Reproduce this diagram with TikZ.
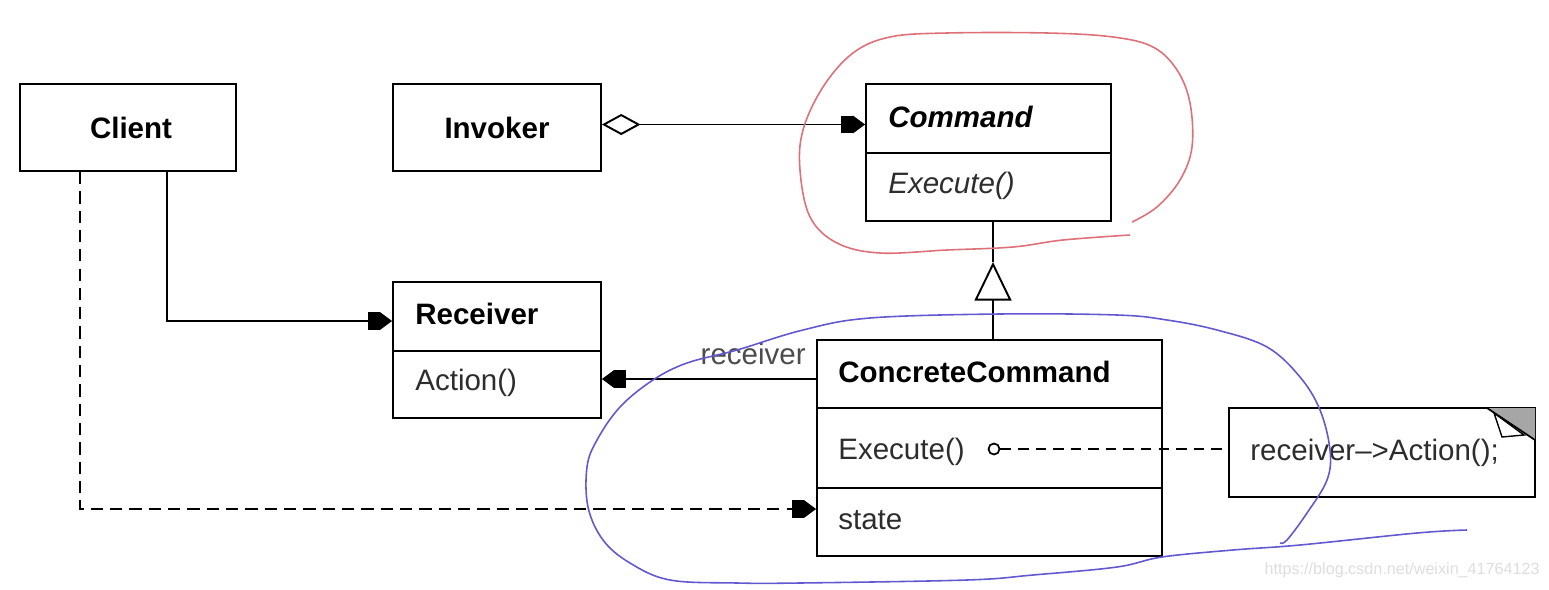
\documentclass[tikz,border=0pt]{standalone}
\usepackage{fontspec}
\setmainfont{Liberation Sans}
\usetikzlibrary{arrows.meta,calc}
\definecolor{redpen}{RGB}{222,112,122}
\definecolor{bluepen}{RGB}{98,88,208}
\definecolor{txt}{RGB}{45,45,45}
\definecolor{wm}{RGB}{222,222,222}
\tikzset{
  box/.style={draw, line width=1pt, inner sep=0pt, anchor=center},
  lbl/.style={font=\fontsize{16.8}{19}\selectfont, text=txt, inner sep=0pt, anchor=west},
  blbl/.style={font=\fontsize{16.8}{19}\selectfont\bfseries, text=black, inner sep=0pt},
  conn/.style={line width=1.1pt},
  tipf/.style={-{Rectangle[length=7pt,width=10pt,sep=0pt]Triangle[length=7pt,width=10pt]}},
  pen/.style={line width=0.9pt},
}
\begin{document}
\begin{tikzpicture}[x=0.02cm,y=-0.02cm]
\useasboundingbox (0,0) rectangle (1549,589);
\fill[white] (0,0) rectangle (1549,589);
% boxes
\node[box, minimum width=216*0.02cm, minimum height=87*0.02cm] (client) at (128,127.5) {};
\node[blbl] (clientt) at (131,128) {Client};
\node[box, minimum width=208*0.02cm, minimum height=87*0.02cm] (inv) at (497,127.5) {};
\node[blbl] (invt) at (inv.center) {Invoker};
\node[box, minimum width=245*0.02cm, minimum height=137*0.02cm] (cmd) at (988.5,152.5) {};
\draw[conn] (866,153) -- (1111,153);
\node[blbl, font=\fontsize{16.8}{19}\selectfont\bfseries\itshape, anchor=west] (cmdt) at (888,117) {Command};
\node[lbl, font=\fontsize{16.8}{19}\selectfont\itshape] (cmde) at (888,186) {Execute()};
\node[box, minimum width=208*0.02cm, minimum height=136*0.02cm] (rcv) at (497,350) {};
\draw[conn] (393,351) -- (601,351);
\node[blbl, anchor=west] (rcvt) at (415,314) {Receiver};
\node[lbl] (rcva) at (415,383) {Action()};
\node[box, minimum width=345*0.02cm, minimum height=216*0.02cm] (cc) at (989.5,448) {};
\draw[conn] (817,408) -- (1162,408);
\draw[conn] (817,488) -- (1162,488);
\node[blbl, anchor=west] (cct) at (838,372) {ConcreteCommand};
\node[lbl] (cce) at (838,452) {Execute()};
\node[lbl] (ccs) at (838,520) {state};
% note
\node[box, minimum width=306*0.02cm, minimum height=89*0.02cm] (note) at (1382,452.5) {};
\fill[gray!70] (1487,408) -- (1535,408) -- (1535,440) -- cycle;
\draw[line width=1pt] (1487,408) -- (1535,440);
\draw[line width=0.8pt, fill=white] (1494,413) -- (1502,437) -- (1524,435) -- cycle;
\node[lbl] (notet) at (1250,453) {receiver--{}>Action();};
% connectors
\draw[conn, {Diamond[open,length=22pt,width=12pt]}-{Rectangle[length=7pt,width=10pt,sep=0pt]Triangle[length=7pt,width=10pt]}] ($(inv.east)+(0,-3)$) -- ($(cmd.west)+(0,-28)$);
\draw[conn, tipf] ($(client.south)+(39,0)$) |- ($(rcv.west)+(0,-29)$);
\draw[conn, tipf, dash pattern=on 7pt off 4pt] ($(client.south)+(-48,0)$) |- ($(cc.west)+(0,61)$);
\draw[conn, tipf] ($(cc.west)+(0,-69)$) -- ($(rcv.east)+(0,29)$);
\node[font=\fontsize{16.8}{19}\selectfont, text=txt!85, inner sep=0pt, anchor=east] (rl) at (806,354) {receiver};
\coordinate (tri) at (993,262);
\draw[conn, -{Triangle[open,length=22pt,width=21pt]}] (cc.north -| tri) -- (tri);
\draw[conn] (tri) -- (cmd.south -| tri);
\node[draw, circle, line width=1pt, minimum size=11*0.02cm, inner sep=0pt] (oc) at (994,449) {};
\draw[conn, dash pattern=on 6pt off 4pt] (oc.east) -- (oc.east -| note.west);
% hand-drawn loops
\draw[pen, redpen] plot[smooth, tension=0.6] coordinates {(1132,222) (1157,207) (1180,180) (1192,147) (1190,103) (1177,70) (1153,47) (1113,37) (1047,33) (947,33) (890,37) (853,53) (823,87) (803,130) (800,170) (810,217) (837,243) (880,253) (947,250) (1013,247) (1063,240) (1130,235)};
\draw[pen, bluepen] plot[smooth, tension=0.6] coordinates {(1467,530) (1417,533) (1300,545) (1233,550) (1162,557) (1117,567) (1033,575) (967,580) (800,583) (737,583) (670,580) (630,563) (603,540) (588,507) (587,467) (597,440) (620,407) (653,380) (687,363) (737,350) (803,330) (870,318) (1000,314) (1117,315) (1167,320) (1217,330) (1267,347) (1300,377) (1320,410) (1330,450) (1327,480) (1307,513) (1287,540) (1280,543)};
% watermark
\node[font=\fontsize{9.2}{11}\selectfont, text=wm, inner sep=0pt, anchor=east] (wmk) at (1540,570) {https://blog.csdn.net/weixin\_41764123};
\end{tikzpicture}
\end{document}
